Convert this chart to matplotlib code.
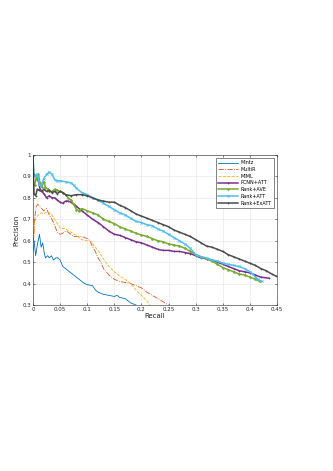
import matplotlib
matplotlib.use("Agg")
import matplotlib.pyplot as plt
from matplotlib.ticker import FuncFormatter

# ---------------------------------------------------------------------------
# Precision / recall curves
# ---------------------------------------------------------------------------
mintz_r = [0, 0.002, 0.005, 0.008, 0.012, 0.015, 0.018, 0.021, 0.023, 0.027, 0.03, 0.034,
           0.038, 0.042, 0.046, 0.05, 0.055, 0.06, 0.065, 0.07, 0.075, 0.08, 0.085, 0.09,
           0.095, 0.1, 0.11, 0.115, 0.12, 0.13, 0.14, 0.15, 0.155, 0.16, 0.17, 0.18, 0.19, 0.195]
mintz_p = [0.60, 0.60, 0.53, 0.58, 0.63, 0.57, 0.59, 0.54, 0.52, 0.53, 0.52, 0.53,
           0.51, 0.52, 0.52, 0.51, 0.48, 0.47, 0.46, 0.45, 0.44, 0.43, 0.42, 0.41,
           0.40, 0.395, 0.39, 0.37, 0.36, 0.35, 0.345, 0.34, 0.345, 0.335, 0.33, 0.31, 0.30, 0.29]

multir_r = [0, 0.003, 0.006, 0.009, 0.012, 0.016, 0.02, 0.025, 0.03, 0.035, 0.04, 0.045,
            0.05, 0.055, 0.06, 0.065, 0.07, 0.075, 0.08, 0.09, 0.1, 0.105, 0.11, 0.115,
            0.12, 0.125, 0.13, 0.135, 0.14, 0.15, 0.16, 0.17, 0.18, 0.19, 0.2, 0.21,
            0.22, 0.23, 0.24, 0.25]
multir_p = [0.55, 0.70, 0.76, 0.77, 0.76, 0.75, 0.74, 0.75, 0.72, 0.70, 0.67, 0.64,
            0.63, 0.635, 0.645, 0.64, 0.63, 0.62, 0.62, 0.62, 0.61, 0.60, 0.57, 0.55,
            0.52, 0.50, 0.47, 0.455, 0.44, 0.42, 0.41, 0.405, 0.40, 0.39, 0.38, 0.36,
            0.345, 0.33, 0.315, 0.30]

miml_r = [0, 0.003, 0.006, 0.01, 0.015, 0.02, 0.025, 0.03, 0.035, 0.04, 0.045, 0.05,
          0.06, 0.07, 0.08, 0.09, 0.1, 0.105, 0.11, 0.115, 0.12, 0.125, 0.13, 0.14,
          0.15, 0.16, 0.17, 0.18, 0.19, 0.2, 0.21, 0.215]
miml_p = [0.55, 0.68, 0.71, 0.72, 0.73, 0.725, 0.735, 0.73, 0.72, 0.70, 0.68, 0.66,
          0.655, 0.64, 0.625, 0.605, 0.60, 0.60, 0.585, 0.57, 0.555, 0.535, 0.515, 0.48,
          0.455, 0.435, 0.42, 0.40, 0.37, 0.345, 0.32, 0.30]

pcnn_r = [0.002, 0.005, 0.008, 0.01, 0.013, 0.016, 0.02, 0.025, 0.03, 0.035, 0.04, 0.045,
          0.05, 0.055, 0.06, 0.065, 0.07, 0.08, 0.09, 0.1, 0.11, 0.12, 0.13, 0.14, 0.15,
          0.16, 0.17, 0.18, 0.19, 0.2, 0.21, 0.22, 0.23, 0.24, 0.25, 0.26, 0.27, 0.28,
          0.29, 0.3, 0.31, 0.32, 0.33, 0.34, 0.35, 0.36, 0.37, 0.38, 0.39, 0.4, 0.41,
          0.42, 0.435]
pcnn_p = [0.91, 0.90, 0.89, 0.88, 0.84, 0.83, 0.82, 0.80, 0.81, 0.80, 0.80, 0.79,
          0.78, 0.775, 0.785, 0.785, 0.78, 0.76, 0.74, 0.72, 0.70, 0.685, 0.665, 0.645, 0.63,
          0.625, 0.615, 0.605, 0.595, 0.59, 0.58, 0.57, 0.56, 0.555, 0.555, 0.55, 0.55, 0.545,
          0.54, 0.53, 0.52, 0.515, 0.51, 0.50, 0.49, 0.48, 0.47, 0.46, 0.455, 0.45, 0.44,
          0.43, 0.425]

ave_r = [0.003, 0.006, 0.01, 0.013, 0.016, 0.02, 0.023, 0.027, 0.03, 0.035, 0.04, 0.045,
         0.05, 0.055, 0.06, 0.065, 0.07, 0.075, 0.08, 0.085, 0.09, 0.1, 0.11, 0.12, 0.13,
         0.14, 0.15, 0.16, 0.17, 0.18, 0.19, 0.2, 0.21, 0.22, 0.23, 0.24, 0.25, 0.26, 0.27,
         0.28, 0.29, 0.3, 0.31, 0.32, 0.33, 0.34, 0.35, 0.36, 0.37, 0.38, 0.39, 0.4, 0.41,
         0.418]
ave_p = [0.86, 0.89, 0.91, 0.87, 0.85, 0.875, 0.85, 0.84, 0.83, 0.83, 0.84, 0.835,
         0.83, 0.825, 0.815, 0.80, 0.79, 0.77, 0.745, 0.74, 0.75, 0.74, 0.73, 0.72, 0.70,
         0.69, 0.68, 0.665, 0.655, 0.645, 0.635, 0.627, 0.62, 0.61, 0.60, 0.595, 0.585, 0.58,
         0.575, 0.565, 0.55, 0.535, 0.525, 0.515, 0.505, 0.49, 0.475, 0.465, 0.455, 0.445,
         0.44, 0.43, 0.42, 0.41]

att_r = [0, 0.002, 0.005, 0.008, 0.012, 0.015, 0.02, 0.025, 0.03, 0.035, 0.04, 0.045,
         0.05, 0.06, 0.07, 0.075, 0.08, 0.09, 0.1, 0.11, 0.12, 0.13, 0.14, 0.15, 0.16,
         0.17, 0.18, 0.19, 0.2, 0.21, 0.22, 0.23, 0.24, 0.25, 0.26, 0.27, 0.28, 0.29, 0.3,
         0.31, 0.32, 0.33, 0.34, 0.35, 0.36, 0.37, 0.38, 0.39, 0.4, 0.405, 0.41, 0.415, 0.422]
att_p = [1.0, 0.90, 0.90, 0.91, 0.86, 0.86, 0.89, 0.91, 0.92, 0.91, 0.885, 0.88,
         0.88, 0.875, 0.87, 0.86, 0.845, 0.825, 0.815, 0.80, 0.79, 0.775, 0.76, 0.745, 0.73,
         0.72, 0.705, 0.69, 0.685, 0.675, 0.67, 0.655, 0.645, 0.63, 0.615, 0.60, 0.585, 0.565,
         0.535, 0.525, 0.52, 0.51, 0.505, 0.495, 0.49, 0.485, 0.48, 0.47, 0.455, 0.445, 0.43,
         0.42, 0.41]

exatt_r = [0, 0.002, 0.005, 0.008, 0.012, 0.016, 0.02, 0.025, 0.03, 0.035, 0.04, 0.045,
           0.05, 0.055, 0.06, 0.07, 0.08, 0.09, 0.1, 0.11, 0.12, 0.13, 0.14, 0.15, 0.16,
           0.17, 0.18, 0.19, 0.2, 0.21, 0.22, 0.23, 0.24, 0.25, 0.26, 0.27, 0.28, 0.29, 0.3,
           0.31, 0.32, 0.33, 0.34, 0.35, 0.36, 0.37, 0.38, 0.39, 0.4, 0.41, 0.42, 0.43, 0.44,
           0.448]
exatt_p = [1.0, 0.82, 0.81, 0.84, 0.835, 0.83, 0.84, 0.83, 0.835, 0.825, 0.83, 0.82,
           0.83, 0.825, 0.815, 0.81, 0.815, 0.815, 0.81, 0.80, 0.79, 0.785, 0.78, 0.78, 0.765,
           0.755, 0.74, 0.725, 0.715, 0.705, 0.695, 0.685, 0.675, 0.665, 0.65, 0.64, 0.63, 0.62,
           0.605, 0.59, 0.575, 0.57, 0.56, 0.55, 0.535, 0.525, 0.515, 0.505, 0.495, 0.485,
           0.47, 0.46, 0.445, 0.435]

x_ticks = [0, 0.05, 0.1, 0.15, 0.2, 0.25, 0.3, 0.35, 0.4, 0.45]
y_ticks = [0.3, 0.4, 0.5, 0.6, 0.7, 0.8, 0.9, 1.0]

# name, recall, precision, colour, linestyle, marker
series = [
    ("Mintz",      mintz_r,  mintz_p,  "#0072BD", "-",  None),
    ("MultiR",     multir_r, multir_p, "#D95319", "-.", None),
    ("MIML",       miml_r,   miml_p,   "#EDB120", "--", None),
    ("PCNN+ATT",   pcnn_r,   pcnn_p,   "#7E2F8E", "-",  "+"),
    ("Rank+AVE",   ave_r,    ave_p,    "#77AC30", "-",  "*"),
    ("Rank+ATT",   att_r,    att_p,    "#4DBEEE", "-",  "x"),
    ("Rank+ExATT", exatt_r,  exatt_p,  "#4D4D4D", "-",  "."),
]

fig = plt.figure(figsize=(3.33, 4.71), dpi=100)
ax = fig.add_axes([0.099, 0.3524, 0.733, 0.3185])

for name, r, p, color, ls, marker in series:
    lw = 0.6 if marker is None else 1.1
    ax.plot(r, p, color=color, linestyle=ls, linewidth=lw,
            marker=marker, markersize=1.6, markeredgewidth=0.5, label=name)

ax.set_xlim(0, 0.45)
ax.set_ylim(0.3, 1.0)
ax.set_xticks(x_ticks)
ax.set_yticks(y_ticks)
ax.xaxis.set_major_formatter(FuncFormatter(lambda v, _: f"{v:g}"))
ax.yaxis.set_major_formatter(FuncFormatter(lambda v, _: f"{v:g}"))
ax.tick_params(direction="in", length=1.5, width=0.4, labelsize=4, pad=1.5,
               top=True, right=True, colors="#262626")
ax.grid(True, color="#e3e3e3", linewidth=0.4)
ax.set_axisbelow(True)
for sp in ax.spines.values():
    sp.set_linewidth(0.4)
    sp.set_color("#262626")

ax.set_xlabel("Recall", fontsize=5, labelpad=1, color="#262626")
ax.set_ylabel("Precision", fontsize=5, labelpad=2, color="#262626")

leg = ax.legend(loc="upper right", fontsize=3.5, handlelength=4, handletextpad=0.6,
                borderpad=0.4, labelspacing=0.35, fancybox=False, framealpha=1,
                borderaxespad=0.7)
leg.get_frame().set_edgecolor("#262626")
leg.get_frame().set_linewidth(0.4)

fig.savefig("out.png", dpi=100)
